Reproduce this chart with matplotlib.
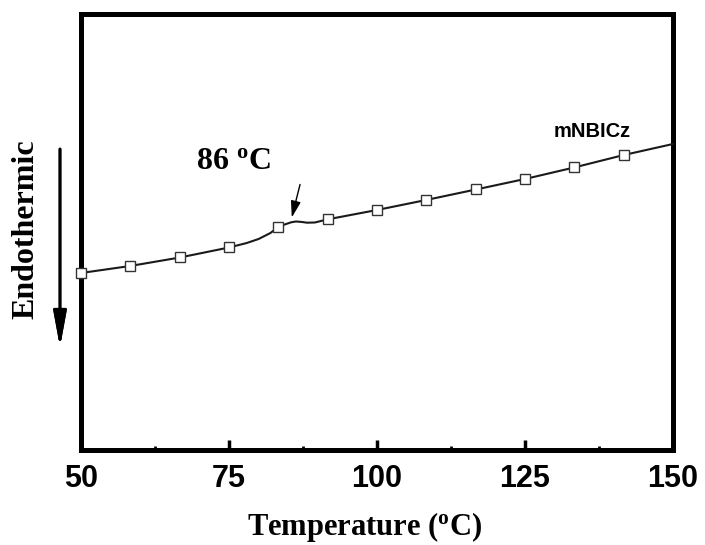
"""DSC trace of mNBICz: endothermic down, glass transition near 86 C."""

import matplotlib.pyplot as plt
from matplotlib.ticker import MultipleLocator

# (heat flow in arbitrary units)
temp = [50, 58.3, 66.7, 75, 78, 80, 82, 83.3, 84.5, 85.5, 86.3, 87.2, 88.2, 89.5, 91.7,
        100, 108.3, 116.7, 125, 133.3, 141.7, 150]
heat = [1.775, 1.845, 1.93, 2.03, 2.075, 2.115, 2.175, 2.235, 2.262, 2.282, 2.29, 2.286,
        2.278, 2.28, 2.312,
        2.405, 2.505, 2.61, 2.715, 2.83, 2.955, 3.065]
marker_idx = [0, 1, 2, 3, 7, 14, 15, 16, 17, 18, 19, 20]

tg = 86
series_name = 'mNBICz'
xticks = [50, 75, 100, 125, 150]

SERIF = 'Liberation Serif'
SANS = 'Liberation Sans'

fig = plt.figure(figsize=(7.05, 5.45), dpi=100)
ax = fig.add_axes([0.1149, 0.1734, 0.9546 - 0.1149, 0.9734 - 0.1734])

ax.plot(temp, heat, '-', color='#1a1a1a', lw=1.5,
        marker='s', markevery=marker_idx, markersize=6.5,
        markerfacecolor='white', markeredgecolor='#333333', markeredgewidth=1.0,
        clip_on=False, zorder=3)

ax.set_xlim(50, 150)
ax.set_ylim(0, 4.36)

for s in ax.spines.values():
    s.set_linewidth(3.6)

ax.set_xticks(xticks)
ax.xaxis.set_minor_locator(MultipleLocator(12.5))
ax.tick_params(axis='x', which='major', direction='in', length=7, width=2.5, pad=10,
               labelsize=22)
ax.tick_params(axis='x', which='minor', direction='in', length=3, width=2)
ax.tick_params(axis='y', left=False, labelleft=False)
for lab in ax.get_xticklabels():
    lab.set_fontfamily(SANS)
    lab.set_fontweight('bold')

# annotations
ax.annotate('', xy=(85.6, 2.33), xytext=(87.0, 2.66),
            arrowprops=dict(arrowstyle='-|>,head_length=0.5,head_width=0.15',
                            color='black', lw=1.0,
                            mutation_scale=20, shrinkA=0, shrinkB=0))
ax.text(75.8, 2.81, f'{tg} $\\mathregular{{^o}}$C', fontsize=23, fontweight='bold',
        family=SERIF, ha='center', va='baseline')
ax.text(136.3, 3.135, series_name, fontsize=14.5, fontweight='bold', family=SANS,
        ha='center', va='baseline')

# axis labels
fig.text(364.5 / 705, 1 - 535 / 545, 'Temperature ($\\mathregular{^o}$C)',
         fontsize=22, fontweight='bold', family=SERIF, ha='center', va='baseline')
fig.text(26 / 705, 1 - 229.5 / 545, 'Endothermic', fontsize=23, fontweight='bold',
         family=SERIF, rotation=90, ha='center', va='center')
fig.add_artist(plt.annotate('', xy=(60 / 705, 1 - 347 / 545), xytext=(60 / 705, 1 - 149 / 545),
                            xycoords='figure fraction', textcoords='figure fraction',
                            arrowprops=dict(arrowstyle='-|>,head_length=1.2,head_width=0.22',
                                            color='black', lw=2.0, mutation_scale=18,
                                            shrinkA=0, shrinkB=0)))

fig.savefig('out.png', dpi=100)
